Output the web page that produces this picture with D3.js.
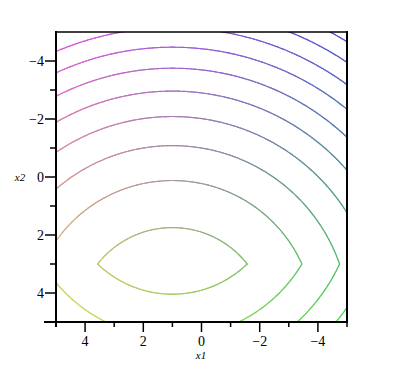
<!DOCTYPE html>
<html><head><meta charset="utf-8">
<script src="https://cdn.jsdelivr.net/npm/d3@7"></script>
<style>body{margin:0;background:#fff} svg{display:block}</style>
</head><body>
<svg id="chart" width="400" height="370"></svg>
<script>
// ---- data ----
const levels = [6.6, 19.8, 33, 46.2, 59.4, 72.6, 85.8, 99, 112.2, 125.4];
const xMajorTicks = [4, 2, 0, -2, -4];
const xMajorLabels = ["4", "2", "0", "\u22122", "\u22124"];
const xMinorTicks = [5, 3, 1, -1, -3, -5];
const yMajorTicks = [-4, -2, 0, 2, 4];
const yMajorLabels = ["\u22124", "\u22122", "0", "2", "4"];
const yMinorTicks = [-3, -1, 1, 3, 5];
const xDomain = [5, -5];
const yDomain = [-5, 5];
const xTitle = "x1", yTitle = "x2";
// surface fitted to the contour positions
const surfCenter = [1, 3];
const slopeAbove = [4];
const slopeBelow = [5.3];

function surface(x1, x2) {
  const d = x2 - surfCenter[1];
  return (x1 - surfCenter[0]) ** 2 + d * d + (d < 0 ? -slopeAbove[0] * d : slopeBelow[0] * d);
}

const svg = d3.select("#chart");
const L = 56, R = 347, T = 32, B = 322;
const x = d3.scaleLinear().domain(xDomain).range([L, R]);
const y = d3.scaleLinear().domain(yDomain).range([T, B]);

const g0 = -5.6, step = 0.04;
const n = Math.round((5.6 - g0) / step) + 1;
const values = new Float64Array(n * n);
for (let j = 0; j < n; j++) for (let i = 0; i < n; i++) {
  values[j * n + i] = surface(g0 + i * step, g0 + j * step);
}
const contours = d3.contours().size([n, n]).thresholds(levels)(values);

const toData = p => [g0 + (p[0] - 0.5) * step, g0 + (p[1] - 0.5) * step];
const clamp = v => Math.max(0, Math.min(1, v));
function colorAt(x1, x2) {
  const r = clamp((x1 + 5) / 10), g = clamp((x2 + 5) / 10), b = clamp((5 - x2) / 10);
  const k = v => Math.round(85 + 135 * v);
  return d3.rgb(k(r), k(g), k(b)).formatHex();
}

svg.append("clipPath").attr("id", "clip")
  .append("rect").attr("x", L).attr("y", T).attr("width", R - L).attr("height", B - T);

const cg = svg.append("g").attr("clip-path", "url(#clip)");
const segs = [];
contours.forEach(c => {
  c.coordinates.forEach(poly => poly.forEach(ring => {
    for (let k = 0; k < ring.length - 1; k++) {
      const a = toData(ring[k]), b = toData(ring[k + 1]);
      const mx = (a[0] + b[0]) / 2, my = (a[1] + b[1]) / 2;
      if (mx > 5.05 || mx < -5.05 || my > 5.05 || my < -5.05) continue;
      segs.push({a, b, c: colorAt(mx, my)});
    }
  }));
});
cg.selectAll("line.seg").data(segs).join("line")
  .attr("class", "seg")
  .attr("x1", d => x(d.a[0])).attr("y1", d => y(d.a[1]))
  .attr("x2", d => x(d.b[0])).attr("y2", d => y(d.b[1]))
  .attr("stroke", d => d.c).attr("stroke-width", 1.15).attr("stroke-linecap", "round");

const ax = svg.append("g").attr("stroke", "#000");
ax.append("line").attr("x1", L).attr("x2", R).attr("y1", T).attr("y2", T).attr("stroke-width", 1.5);
ax.append("line").attr("x1", R).attr("x2", R).attr("y1", T - 1).attr("y2", B).attr("stroke-width", 2);
ax.append("line").attr("x1", L).attr("x2", L).attr("y1", T - 1).attr("y2", B + 5).attr("stroke-width", 2);
ax.append("line").attr("x1", 44).attr("x2", R + 1).attr("y1", B).attr("y2", B).attr("stroke-width", 2);

ax.selectAll("line.xmaj").data(xMajorTicks).join("line").attr("class", "xmaj")
  .attr("x1", d => x(d)).attr("x2", d => x(d)).attr("y1", B).attr("y2", B + 10).attr("stroke-width", 1.5);
ax.selectAll("line.xmin").data(xMinorTicks).join("line").attr("class", "xmin")
  .attr("x1", d => x(d)).attr("x2", d => x(d)).attr("y1", B).attr("y2", B + 5).attr("stroke-width", 1.5);
ax.selectAll("line.ymaj").data(yMajorTicks).join("line").attr("class", "ymaj")
  .attr("y1", d => y(d)).attr("y2", d => y(d)).attr("x1", L).attr("x2", L - 11).attr("stroke-width", 1.5);
ax.selectAll("line.ymin").data(yMinorTicks).join("line").attr("class", "ymin")
  .attr("y1", d => y(d)).attr("y2", d => y(d)).attr("x1", L).attr("x2", L - 6).attr("stroke-width", 1.5);

const font = "Liberation Serif, DejaVu Serif, serif";
svg.selectAll("text.xl").data(xMajorTicks).join("text").attr("class", "xl")
  .attr("x", d => x(d)).attr("y", 346).attr("text-anchor", "middle")
  .attr("font-family", font).attr("font-size", 14).attr("fill", "#000")
  .text((d, i) => xMajorLabels[i]);
svg.selectAll("text.yl").data(yMajorTicks).join("text").attr("class", "yl")
  .attr("x", 44).attr("y", d => y(d)).attr("dy", "0.35em").attr("text-anchor", "end")
  .attr("font-family", font).attr("font-size", 14).attr("fill", "#000")
  .text((d, i) => yMajorLabels[i]);

svg.append("text").attr("x", 201).attr("y", 359).attr("text-anchor", "middle")
  .attr("font-family", font).attr("font-style", "italic").attr("font-size", 11).text(xTitle);
svg.append("text").attr("x", 20).attr("y", 181).attr("text-anchor", "middle")
  .attr("font-family", font).attr("font-style", "italic").attr("font-size", 11).text(yTitle);
</script>
</body></html>
